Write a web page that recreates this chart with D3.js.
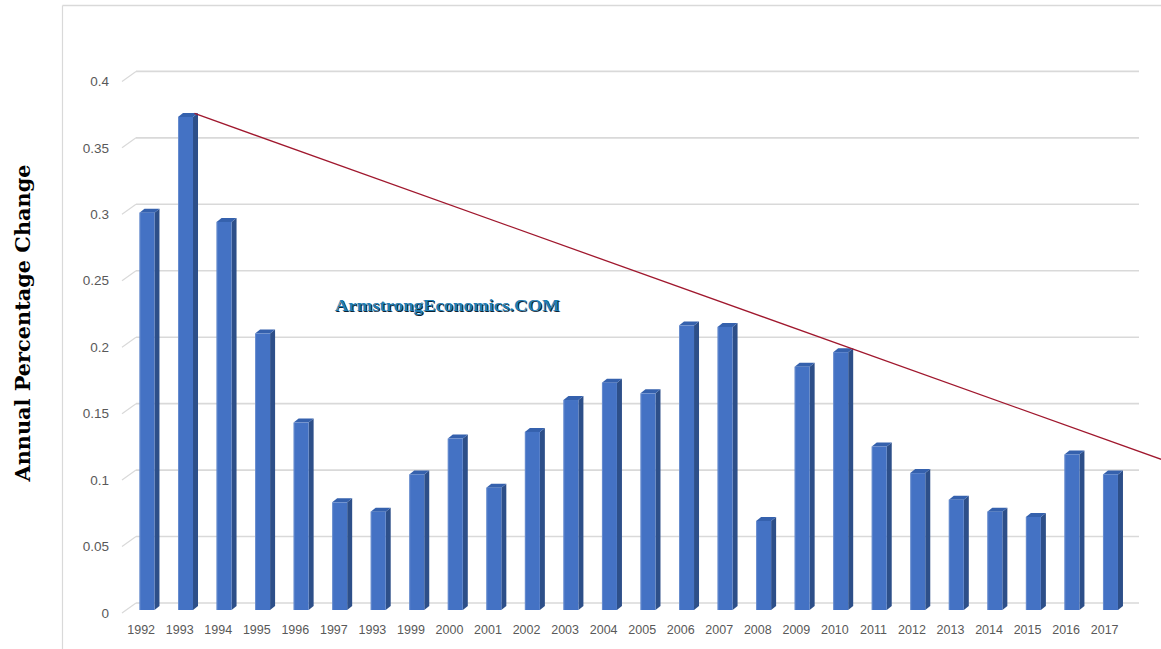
<!DOCTYPE html>
<html>
<head>
<meta charset="utf-8">
<script src="https://cdn.jsdelivr.net/npm/d3@7/dist/d3.min.js"></script>
<style>
  html, body { margin: 0; padding: 0; background: #ffffff; }
  svg { display: block; }
</style>
</head>
<body>
<svg id="chart" width="1161" height="649"></svg>
<script>
// ---- data ----
const years = ["1992","1993","1994","1995","1996","1997","1998","1999","2000","2001","2002","2003","2004","2005","2006","2007","2008","2009","2010","2011","2012","2013","2014","2015","2016","2017"];
const yearLabels = ["1992","1993","1994","1995","1996","1997","1993","1999","2000","2001","2002","2003","2004","2005","2006","2007","2008","2009","2010","2011","2012","2013","2014","2015","2016","2017"];
const values = [0.299, 0.371, 0.292, 0.208, 0.141, 0.081, 0.074, 0.102, 0.129, 0.092, 0.134, 0.158, 0.171, 0.163, 0.214, 0.213, 0.067, 0.183, 0.194, 0.123, 0.103, 0.083, 0.074, 0.070, 0.117, 0.102];
const yTicks = [0, 0.05, 0.1, 0.15, 0.2, 0.25, 0.3, 0.35, 0.4];
const yTickLabels = ["0", "0.05", "0.1", "0.15", "0.2", "0.25", "0.3", "0.35", "0.4"];
const trendYears = ["1993", "2010"];
const trendValues = [0.371, 0.1946];
const yTitle = "Annual Percentage Change";
const watermark = "ArmstrongEconomics.COM";

// ---- layout ----
const svg = d3.select("#chart");
const W = 1161, H = 649;
const depthX = 14, depthY = 10;     // floor depth
const barDX = 5, barDY = 4;          // bar depth
const frontW = 15;

const x = d3.scaleBand().domain(years).range([123.2, 123.2 + 26 * 38.54]).padding(0);
const y = d3.scaleLinear().domain([0, 0.4]).range([603, 71.4]);
const slotC = d => x(d) + x.bandwidth() / 2;
const frontL = d => slotC(d) + 3.5 - frontW / 2 + 1;   // front face left
const yFront = v => y(v) + 7;

// frame
svg.append("line").attr("x1", 62.5).attr("y1", 5.5).attr("x2", W).attr("y2", 5.5)
  .attr("stroke", "#d9d9d9").attr("stroke-width", 1.5);
svg.append("line").attr("x1", 62.5).attr("y1", 5.5).attr("x2", 62.5).attr("y2", H)
  .attr("stroke", "#d9d9d9").attr("stroke-width", 1.2);

// gridlines (back wall) + floor diagonals
const gx0 = 136, gx1 = 1139;
const grid = svg.append("g");
yTicks.forEach((t, i) => {
  const gy = y(t);
  grid.append("line").attr("x1", gx0).attr("x2", gx1).attr("y1", gy).attr("y2", gy)
    .attr("stroke", "#d9d9d9").attr("stroke-width", 1.6);
  grid.append("line").attr("x1", gx0 - depthX).attr("y1", gy + depthY).attr("x2", gx0).attr("y2", gy)
    .attr("stroke", "#d9d9d9").attr("stroke-width", 1.2);
  grid.append("text").attr("x", 109).attr("y", gy + depthY).attr("dy", "0.35em")
    .attr("text-anchor", "end")
    .attr("font-family", "Liberation Sans, Arial, sans-serif").attr("font-size", 13.5)
    .attr("fill", "#595959").text(yTickLabels[i]);
});

// bars
const bars = svg.append("g");
years.forEach((yr, i) => {
  const v = values[i];
  const xl = frontL(yr), xr = xl + frontW;
  const yt = yFront(v), yb = yFront(0);
  // side
  bars.append("polygon")
    .attr("points", [[xr, yt], [xr + barDX, yt - barDY], [xr + barDX, yb - barDY], [xr, yb]].map(p => p.join(",")).join(" "))
    .attr("fill", "#2d4f89");
  // top
  bars.append("polygon")
    .attr("points", [[xl, yt], [xr, yt], [xr + barDX, yt - barDY], [xl + barDX, yt - barDY]].map(p => p.join(",")).join(" "))
    .attr("fill", "#3561ad");
  // front
  bars.append("rect").attr("x", xl).attr("y", yt).attr("width", frontW).attr("height", yb - yt)
    .attr("fill", "#4472c4");
  bars.append("line").attr("x1", xl + 0.5).attr("x2", xl + 0.5).attr("y1", yt).attr("y2", yb)
    .attr("stroke", "#7f9ed6").attr("stroke-width", 1).attr("opacity", 0.6);
});

// x labels
svg.append("g").selectAll("text").data(years).join("text")
  .attr("x", d => slotC(d) - 1.3).attr("y", 634)
  .attr("text-anchor", "middle")
  .attr("font-family", "Liberation Sans, Arial, sans-serif").attr("font-size", 12.5)
  .attr("fill", "#595959")
  .text((d, i) => yearLabels[i]);

// trend line (through tops of 1993 and 2010 bars, extended to the right edge)
const tx = trendYears.map(d => frontL(d) + frontW);
const ty = trendValues.map(v => y(v) + 3);
const slope = (ty[1] - ty[0]) / (tx[1] - tx[0]);
svg.append("line")
  .attr("x1", tx[0] + 1.5).attr("y1", ty[0] + 1.5 * slope)
  .attr("x2", W + 2).attr("y2", ty[0] + (W + 2 - tx[0]) * slope)
  .attr("stroke", "#a0182e").attr("stroke-width", 1.3);

// y-axis title
svg.append("text")
  .attr("transform", "translate(30,323) rotate(-90)")
  .attr("text-anchor", "middle")
  .attr("font-family", "DejaVu Serif, Liberation Serif, serif").attr("font-weight", "bold")
  .attr("font-size", 20)
  .attr("textLength", 317).attr("lengthAdjust", "spacingAndGlyphs")
  .attr("fill", "#000000")
  .text(yTitle);

// watermark
const wm = svg.append("g");
wm.append("text").attr("x", 335.8).attr("y", 312)
  .attr("font-family", "Liberation Serif, DejaVu Serif, serif").attr("font-weight", "bold")
  .attr("font-size", 17.5).attr("textLength", 225).attr("lengthAdjust", "spacingAndGlyphs")
  .attr("fill", "#0b2233").text(watermark);
wm.append("text").attr("x", 334.8).attr("y", 311)
  .attr("font-family", "Liberation Serif, DejaVu Serif, serif").attr("font-weight", "bold")
  .attr("font-size", 17.5).attr("textLength", 225).attr("lengthAdjust", "spacingAndGlyphs")
  .attr("fill", "#1f7db3").text(watermark);
</script>
</body>
</html>
